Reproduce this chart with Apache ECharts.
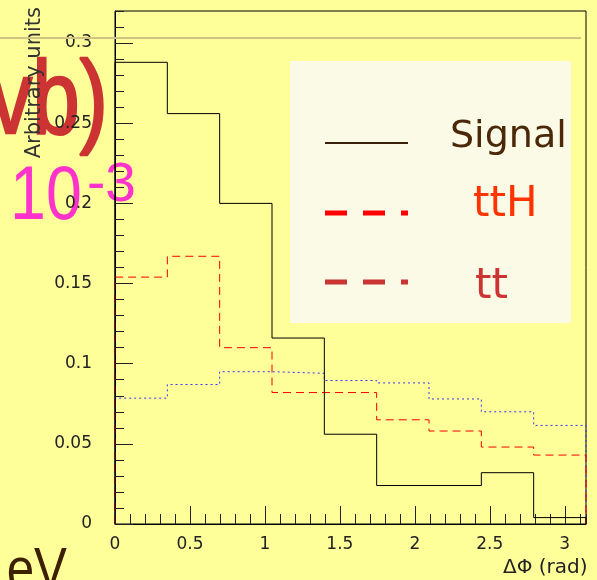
<!DOCTYPE html>
<html>
<head>
<meta charset="utf-8">
<script src="https://cdn.jsdelivr.net/npm/echarts@6/dist/echarts.min.js"></script>
<style>
html,body{margin:0;padding:0;background:#ffff99;}
#chart{width:597px;height:580px;}
</style>
</head>
<body>
<div id="chart"></div>
<script>
// Bin edges of the ΔΦ histogram (9 bins over 0..π)
const binEdges = [0, 0.3491, 0.6981, 1.0472, 1.3963, 1.7453, 2.0944, 2.4435, 2.7925, 3.1416];
// Series values (arbitrary units)
const signalVals = [0.288, 0.256, 0.200, 0.116, 0.056, 0.024, 0.024, 0.032, 0.004];
const ttHVals    = [0.154, 0.167, 0.110, 0.082, 0.082, 0.065, 0.058, 0.048, 0.043];
const ttVals     = [0.0785, 0.087, 0.095, 0.094, 0.0895, 0.088, 0.078, 0.070, 0.0615];
// Tick labels
const xTickLabels = ['0', '0.5', '1', '1.5', '2', '2.5', '3'];
const yTickLabels = ['0', '0.05', '0.1', '0.15', '0.2', '0.25', '0.3'];
// Legend entries
const legendNames = ['Signal', 'ttH', 'tt'];

function histPoints(vals) {
  const pts = [[binEdges[0], 0]];
  for (let i = 0; i < vals.length; i++) pts.push([binEdges[i], vals[i]]);
  pts.push([binEdges[vals.length], 0]);
  return pts;
}
function labelFor(list) {
  return function (v) {
    for (const s of list) if (Math.abs(parseFloat(s) - v) < 1e-6) return s;
    return '';
  };
}

const FONT = 'DejaVu Sans';
const chart = echarts.init(document.getElementById('chart'), null, {renderer: 'canvas'});
const xMin = binEdges[0], xMax = binEdges[binEdges.length - 1];

const option = {
  backgroundColor: '#ffff99',
  animation: false,
  grid: {left: 115, right: 11, top: 11, bottom: 56, show: true, borderColor: '#000', borderWidth: 1, backgroundColor: 'transparent'},
  xAxis: [
    {type: 'value', min: xMin, max: xMax, interval: 0.5, position: 'bottom',
     axisLine: {show: true, lineStyle: {color: '#000', width: 1}},
     axisTick: {show: true, inside: true, length: 18, lineStyle: {color: '#222'}},
     axisLabel: {show: true, margin: 12, fontSize: 17, color: '#222', fontFamily: FONT, showMaxLabel: false, formatter: labelFor(xTickLabels)},
     splitLine: {show: false}},
    {type: 'value', min: xMin, max: xMax, interval: 0.1, position: 'bottom', offset: 0,
     axisLine: {show: false},
     axisTick: {show: true, inside: true, length: 10, lineStyle: {color: '#222'}},
     axisLabel: {show: false}, splitLine: {show: false}}
  ],
  yAxis: [
    {type: 'value', min: 0, max: 0.32, interval: 0.05, position: 'left',
     axisLine: {show: true, lineStyle: {color: '#000', width: 1}},
     axisTick: {show: true, inside: true, length: 18, lineStyle: {color: '#222'}},
     axisLabel: {show: true, margin: 23, fontSize: 17, color: '#222', fontFamily: FONT, showMaxLabel: false, formatter: labelFor(yTickLabels)},
     splitLine: {show: false}},
    {type: 'value', min: 0, max: 0.32, interval: 0.01, position: 'left', offset: 0,
     axisLine: {show: false},
     axisTick: {show: true, inside: true, length: 9, lineStyle: {color: '#222'}},
     axisLabel: {show: false}, splitLine: {show: false}}
  ],
  series: [
    {name: legendNames[0], type: 'line', step: 'end', data: histPoints(signalVals), symbol: 'none',
     lineStyle: {color: '#000', width: 1, type: 'solid'}, z: 5},
    {name: legendNames[1], type: 'line', step: 'end', data: histPoints(ttHVals), symbol: 'none',
     lineStyle: {color: '#ff0000', width: 1, type: [8, 5]}, z: 4},
    {name: legendNames[2], type: 'line', step: 'end', data: histPoints(ttVals), symbol: 'none',
     lineStyle: {color: '#3333ff', width: 1, type: [2, 3]}, z: 3}
  ],
  graphic: [
    // background slide text fragments
    {type: 'text', z: -10, x: 108, y: 104, scaleX: 0.82, style: {text: 'vb)', fill: '#cc3333', stroke: '#cc3333', lineWidth: 2.5, font: '104px "Liberation Sans"', align: 'right', verticalAlign: 'middle'}},
    {type: 'text', z: -10, x: 10, y: 198, scaleX: 0.85, style: {text: '10', fill: '#ff33cc', font: '76px "Liberation Sans"', align: 'left', verticalAlign: 'middle'}},
    {type: 'text', z: -10, x: 87, y: 186, style: {text: '-3', fill: '#ff33cc', font: '55px "Liberation Sans"', align: 'left', verticalAlign: 'middle'}},
    {type: 'text', z: -10, x: 67, y: 572, scaleX: 0.85, style: {text: 'eV', fill: '#3d2000', font: '58px "Liberation Sans"', align: 'right', verticalAlign: 'middle'}},
    // y axis title
    {type: 'text', z: 1, x: 35, y: 7, rotation: Math.PI / 2, style: {text: 'Arbitrary units', fill: '#333', font: '21px "DejaVu Sans"', align: 'right', verticalAlign: 'middle'}},
    // x axis title
    {type: 'text', z: 1, x: 503, y: 568, style: {text: 'ΔΦ (rad)', fill: '#222', font: '20px "DejaVu Sans"', align: 'left', verticalAlign: 'middle'}},
    // tan line across slide
    {type: 'line', z: 100, shape: {x1: 0, y1: 38, x2: 581, y2: 38}, style: {stroke: '#d2c384', lineWidth: 2}},
    // legend box
    {type: 'rect', z: 50, shape: {x: 290, y: 61, width: 281, height: 262}, style: {fill: '#fafae6'}},
    {type: 'line', z: 51, shape: {x1: 325, y1: 143, x2: 408, y2: 143}, style: {stroke: '#3a2008', lineWidth: 2}},
    {type: 'line', z: 51, shape: {x1: 325, y1: 213, x2: 408, y2: 213}, style: {stroke: '#ff0000', lineWidth: 5, lineDash: [22, 16]}},
    {type: 'line', z: 51, shape: {x1: 325, y1: 282, x2: 408, y2: 282}, style: {stroke: '#cc3333', lineWidth: 5, lineDash: [22, 16]}},
    {type: 'text', z: 51, x: 450, y: 137, style: {text: legendNames[0], fill: '#4a2808', font: '38px "DejaVu Sans"', align: 'left', verticalAlign: 'middle'}},
    {type: 'text', z: 51, x: 473, y: 205, style: {text: legendNames[1], fill: '#ff3300', font: '42px "DejaVu Sans"', align: 'left', verticalAlign: 'middle'}},
    {type: 'text', z: 51, x: 475, y: 287, style: {text: legendNames[2], fill: '#cc3333', font: '42px "DejaVu Sans"', align: 'left', verticalAlign: 'middle'}}
  ]
};
chart.setOption(option);
</script>
</body>
</html>
